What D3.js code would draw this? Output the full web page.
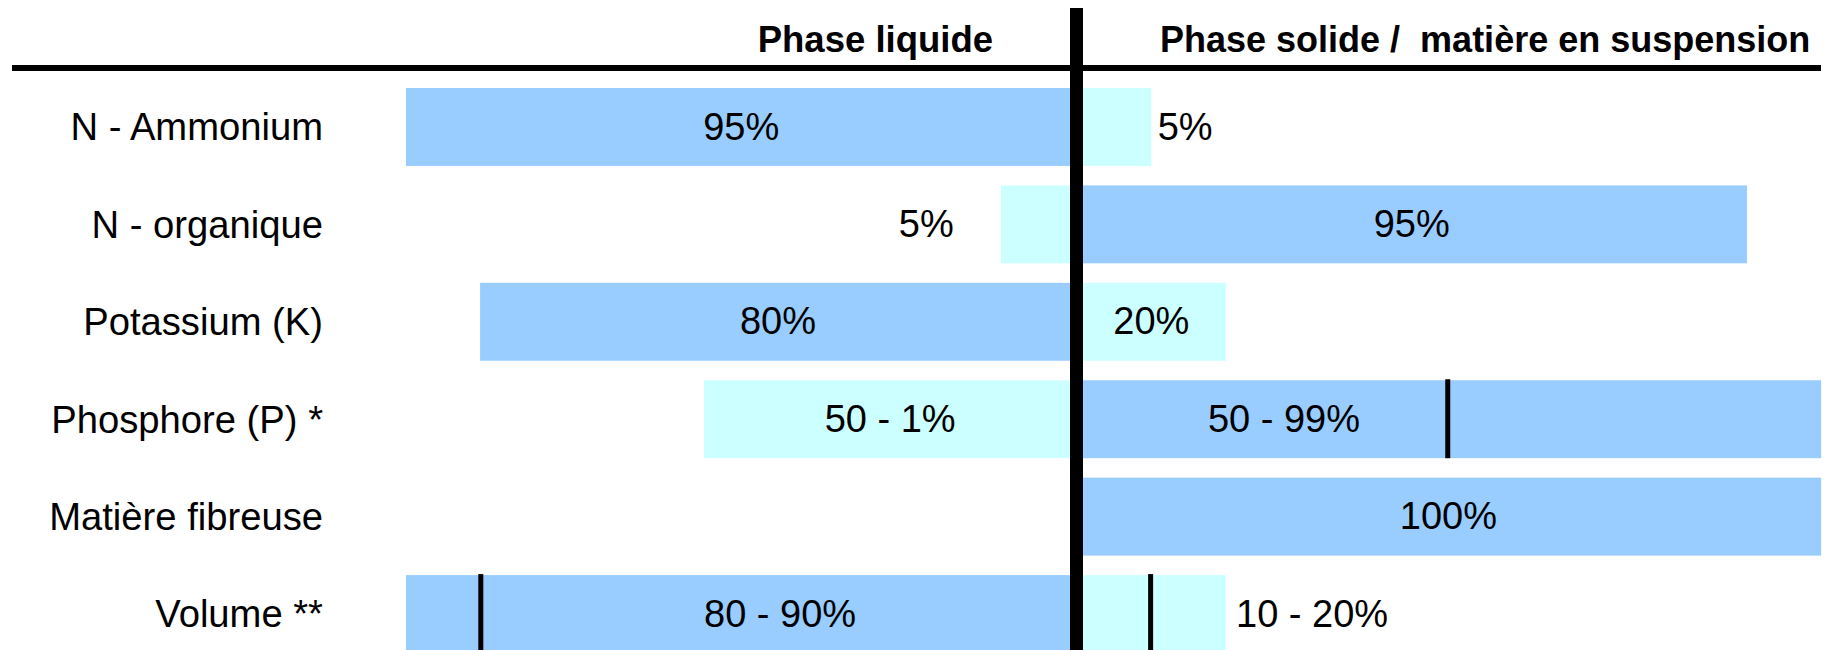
<!DOCTYPE html>
<html>
<head>
<meta charset="utf-8">
<script src="https://cdn.jsdelivr.net/npm/d3@7"></script>
<style>
  html, body { margin: 0; padding: 0; background: #fff; }
  svg { display: block; font-family: "Liberation Sans", Arial, sans-serif; }
</style>
</head>
<body>
<section></section>
<script>
// global constants.
const width = 1843;
const height = 650;
const center = 1076.5;
const blue = '#99ccff';
const cyan = '#ccffff';

// categories (rows)
const categories = [
  'N - Ammonium',
  'N - organique',
  'Potassium (K)',
  'Phosphore (P) *',
  'Matière fibreuse',
  'Volume **'
];

// bar lengths as drawn (percent units)
const liquidValues = [95, 10.7, 84.5, 52.8, 0, 95];
const solidValues = [10.6, 95, 21.2, 105.5, 105.5, 21.2];

// which phase holds the larger share (dark blue)
const liquidMajor = [true, false, true, false, false, true];

// value labels
const liquidLabels = ['95%', '5%', '80%', '50 - 1%', '', '80 - 90%'];
const solidLabels = ['5%', '95%', '20%', '50 - 99%', '100%', '10 - 20%'];

// where each label sits (percent units from the centre line) and its anchor
const liquidLabelAt = [47.5, 17.4, 42.3, 26.4, 0, 42.0];
const liquidLabelAnchor = ['middle', 'end', 'middle', 'middle', 'middle', 'middle'];
const solidLabelAt = [11.5, 47.5, 10.6, 29.4, 52.7, 22.6];
const solidLabelAnchor = ['start', 'middle', 'middle', 'middle', 'middle', 'start'];

// range markers (vertical ticks inside bars), null where absent
const liquidMarks = [null, null, null, null, null, 84.4];
const solidMarks = [null, null, null, 52.6, null, 10.5];

// column titles
const titles = ['Phase liquide', 'Phase solide /  matière en suspension'];

const rows = categories.map((c, i) => ({
  name: c,
  i: i,
  liquid: liquidValues[i],
  solid: solidValues[i]
}));

const svg = d3.select('section')
  .append('svg')
  .attr('width', width)
  .attr('height', height);

const yScale = d3.scaleBand()
  .domain(categories)
  .range([88, 653])
  .paddingInner(0.2)
  .paddingOuter(0);

// length scale, 100% ≈ 706px
const xLen = d3.scaleLinear()
  .domain([0, 100])
  .range([0, 705.8]);

// liquid bars (to the left)
svg.append('g')
  .selectAll('rect')
  .data(rows.filter((d) => d.liquid > 0))
  .enter()
  .append('rect')
  .attr('x', (d) => center - xLen(d.liquid))
  .attr('y', (d) => yScale(d.name))
  .attr('width', (d) => xLen(d.liquid))
  .attr('height', yScale.bandwidth())
  .attr('fill', (d) => liquidMajor[d.i] ? blue : cyan);

// solid bars (to the right)
svg.append('g')
  .selectAll('rect')
  .data(rows.filter((d) => d.solid > 0))
  .enter()
  .append('rect')
  .attr('x', center)
  .attr('y', (d) => yScale(d.name))
  .attr('width', (d) => xLen(d.solid))
  .attr('height', yScale.bandwidth())
  .attr('fill', (d) => liquidMajor[d.i] ? cyan : blue);

// range markers
const marks = [];
liquidMarks.forEach((m, i) => { if (m !== null) marks.push({ x: center - xLen(m), name: categories[i] }); });
solidMarks.forEach((m, i) => { if (m !== null) marks.push({ x: center + xLen(m), name: categories[i] }); });

svg.append('g')
  .selectAll('rect')
  .data(marks)
  .enter()
  .append('rect')
  .attr('x', (d) => d.x - 2.5)
  .attr('y', (d) => yScale(d.name) - 1)
  .attr('width', 5)
  .attr('height', yScale.bandwidth() + 1)
  .attr('fill', '#000');

// category labels
svg.append('g')
  .selectAll('text')
  .data(categories)
  .enter()
  .append('text')
  .attr('x', 323)
  .attr('y', (d) => yScale(d) + yScale.bandwidth() / 2)
  .attr('dy', '0.35em')
  .attr('text-anchor', 'end')
  .style('font-size', '38.2px')
  .text((d) => d);

// value labels
svg.append('g')
  .selectAll('text')
  .data(rows.filter((d) => liquidLabels[d.i] !== ''))
  .enter()
  .append('text')
  .attr('x', (d) => center - xLen(liquidLabelAt[d.i]))
  .attr('y', (d) => yScale(d.name) + yScale.bandwidth() / 2)
  .attr('dy', '0.33em')
  .attr('text-anchor', (d) => liquidLabelAnchor[d.i])
  .style('font-size', '38px')
  .text((d) => liquidLabels[d.i]);

svg.append('g')
  .selectAll('text')
  .data(rows.filter((d) => solidLabels[d.i] !== ''))
  .enter()
  .append('text')
  .attr('x', (d) => center + xLen(solidLabelAt[d.i]))
  .attr('y', (d) => yScale(d.name) + yScale.bandwidth() / 2)
  .attr('dy', '0.33em')
  .attr('text-anchor', (d) => solidLabelAnchor[d.i])
  .style('font-size', '38px')
  .text((d) => solidLabels[d.i]);

// header line and centre divider
svg.append('rect')
  .attr('x', 12)
  .attr('y', 65)
  .attr('width', 1821 - 12)
  .attr('height', 6)
  .attr('fill', '#000');

svg.append('rect')
  .attr('x', center - 6.5)
  .attr('y', 8)
  .attr('width', 13)
  .attr('height', height - 8)
  .attr('fill', '#000');

// column titles
svg.append('text')
  .attr('x', 993)
  .attr('y', 52)
  .attr('text-anchor', 'end')
  .style('font-size', '36.5px')
  .style('font-weight', 'bold')
  .text(titles[0]);

svg.append('text')
  .attr('x', 1160)
  .attr('y', 52)
  .attr('text-anchor', 'start')
  .style('font-size', '36px')
  .style('font-weight', 'bold')
  .style('white-space', 'pre')
  .text(titles[1]);
</script>
</body>
</html>
